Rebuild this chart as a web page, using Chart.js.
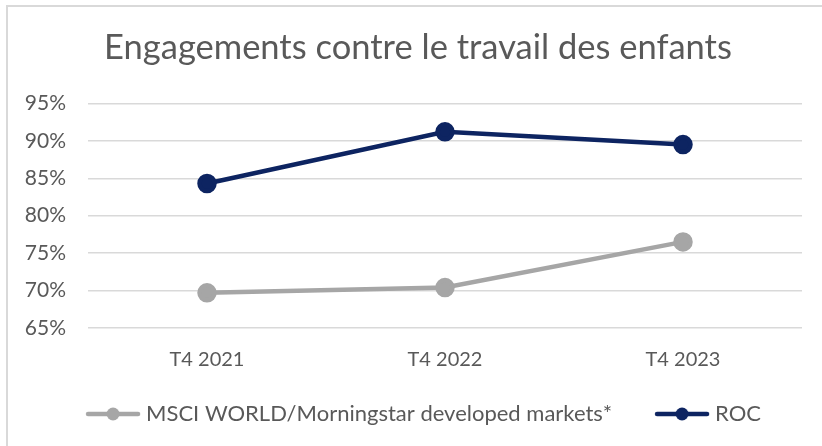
<!DOCTYPE html>
<html>
<head>
<meta charset="utf-8">
<script src="https://cdn.jsdelivr.net/npm/chart.js@4.4.1/dist/chart.umd.min.js"></script>
<style>
  html, body { margin: 0; padding: 0; background: #fff; overflow: hidden; }
  #wrap { position: relative; width: 822px; height: 446px; }
  #frame { position: absolute; left: 6px; top: 5px; width: 830px; height: 460px; border-left: 2px solid #d9d9d9; border-top: 2px solid #d9d9d9; pointer-events: none; }
</style>
</head>
<body>
<div id="wrap">
  <canvas id="chart" width="822" height="446"></canvas>
  <div id="frame"></div>
</div>
<script>
// Data
const categories = ['T4 2021', 'T4 2022', 'T4 2023'];
const msciValues = [69.7, 70.4, 76.5];
const rocValues = [84.3, 91.2, 89.5];
const yTicks = [65, 70, 75, 80, 85, 90, 95];

const GREY = '#a6a6a6';
const NAVY = '#0d2461';
const TEXT = '#595959';
const FONT = "Lato, 'Open Sans', sans-serif";

// legend marker: short line with a dot in the middle
function legendMarker(color) {
  const c = document.createElement('canvas');
  c.width = 56; c.height = 16;
  const g = c.getContext('2d');
  g.strokeStyle = color;
  g.lineWidth = 4.5;
  g.lineCap = 'round';
  g.beginPath();
  g.moveTo(3, 8); g.lineTo(53, 8);
  g.stroke();
  g.fillStyle = color;
  g.beginPath();
  g.arc(28, 8, 6.5, 0, Math.PI * 2);
  g.fill();
  return c;
}

// nudge legend / title boxes after layout (Excel centres them a bit right of the canvas centre)
const nudgeBoxes = {
  id: 'nudgeBoxes',
  afterLayout(chart) {
    const lg = chart.legend;
    // legend clips to its own box, so grow it upwards rather than moving it
    if (lg) { lg.left += 15; lg.right += 15; lg.top -= 37; }
    const tb = chart.titleBlock;
    if (tb) { tb.left += 7; tb.right += 7; }
  },
};

const ctx = document.getElementById('chart');
new Chart(ctx, {
  type: 'line',
  data: {
    labels: categories,
    datasets: [
      {
        label: 'MSCI WORLD/Morningstar developed markets*',
        data: msciValues,
        borderColor: GREY,
        backgroundColor: GREY,
        borderWidth: 4.5,
        pointRadius: 7.5,
        pointHoverRadius: 7.5,
        pointStyle: 'circle',
        tension: 0,
      },
      {
        label: 'ROC',
        data: rocValues,
        borderColor: NAVY,
        backgroundColor: NAVY,
        borderWidth: 4.5,
        pointRadius: 7.5,
        pointHoverRadius: 7.5,
        pointStyle: 'circle',
        tension: 0,
      },
    ],
  },
  plugins: [nudgeBoxes],
  options: {
    responsive: false,
    animation: false,
    layout: { padding: { left: 20, right: 20, top: 27, bottom: 0 } },
    plugins: {
      title: {
        display: true,
        text: 'Engagements contre le travail des enfants',
        color: TEXT,
        font: { family: FONT, size: 34.5, weight: 'normal', lineHeight: 1.2 },
        padding: { top: 0, bottom: 35 },
      },
      legend: {
        position: 'bottom',
        maxHeight: 54,
        labels: {
          color: TEXT,
          font: { family: FONT, size: 22 },
          usePointStyle: true,
          pointStyleWidth: 44,
          boxHeight: 16,
          padding: 48,
          generateLabels: (chart) =>
            chart.data.datasets.map((ds, i) => ({
              text: ds.label,
              fontColor: TEXT,
              pointStyle: legendMarker(ds.borderColor),
              datasetIndex: i,
              lineWidth: 0,
              strokeStyle: 'transparent',
              fillStyle: 'transparent',
            })),
        },
      },
      tooltip: { enabled: false },
    },
    scales: {
      x: {
        offset: true,
        grid: { display: false, drawTicks: false },
        border: { display: false },
        ticks: { color: TEXT, font: { family: FONT, size: 20 }, padding: 20 },
      },
      y: {
        min: 65,
        max: 95,
        afterBuildTicks: (axis) => { axis.ticks = yTicks.map((v) => ({ value: v })); },
        afterFit: (axis) => { axis.width = 68; },
        grid: { color: '#d9d9d9', lineWidth: 1.5, drawTicks: false },
        border: { display: false },
        ticks: {
          color: TEXT,
          font: { family: FONT, size: 21 },
          padding: 22,
          callback: (v) => v + '%',
        },
      },
    },
  },
});
</script>
</body>
</html>
